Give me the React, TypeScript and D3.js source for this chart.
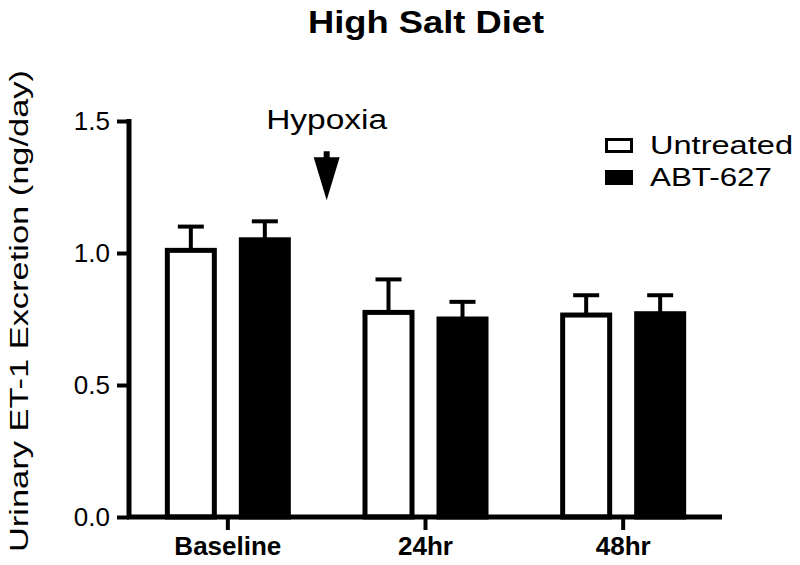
import React, { useRef, useEffect } from "react";
import * as d3 from "d3";

// data
const categories = ["Baseline", "24hr", "48hr"];
const seriesNames = ["Untreated", "ABT-627"];
const untreatedMean = [1.01, 0.775, 0.765];
const untreatedSem = [0.09, 0.125, 0.075];
const abtMean = [1.05, 0.75, 0.77];
const abtSem = [0.07, 0.065, 0.07];
const yTicks = [0.0, 0.5, 1.0, 1.5];
const seriesFill = ["#ffffff", "#000000"];

// hypoxia arrow: drawn between Baseline and 24hr, from 1.38 down to 1.2
const arrowTop = 1.385;
const arrowTip = 1.2;

const W = 800;
const H = 565;
const FONT = "'Liberation Sans', Arial, sans-serif";

const App = () => {
    const svgRef = useRef(null);

    useEffect(() => {
        const svg = d3.select(svgRef.current);
        svg.selectAll("*").remove();

        const y = d3.scaleLinear().domain([0, 1.5]).range([517, 121]);
        const x0 = d3.scaleBand().domain(categories).range([129, 722]);
        const x1 = d3.scalePoint().domain(seriesNames).range([-37, 37]);
        const barW = 47;

        const rows = categories.map((c, i) => [
            { cat: c, s: seriesNames[0], mean: untreatedMean[i], sem: untreatedSem[i], fill: seriesFill[0] },
            { cat: c, s: seriesNames[1], mean: abtMean[i], sem: abtSem[i], fill: seriesFill[1] },
        ]).flat();

        const cx = (d) => x0(d.cat) + x0.bandwidth() / 2 + x1(d.s);

        // title
        svg.append("text")
            .attr("x", 426).attr("y", 33)
            .attr("text-anchor", "middle")
            .attr("font-family", FONT).attr("font-weight", "bold").attr("font-size", 32)
            .attr("textLength", 236).attr("lengthAdjust", "spacingAndGlyphs")
            .text("High Salt Diet");

        // y label
        svg.append("text")
            .attr("transform", "translate(28," + 311 + ") rotate(-90)")
            .attr("text-anchor", "middle")
            .attr("font-family", FONT).attr("font-size", 26)
            .attr("textLength", 482).attr("lengthAdjust", "spacingAndGlyphs")
            .text("Urinary ET-1 Excretion (ng/day)");

        // error bars (behind bars)
        const eb = svg.append("g").attr("stroke", "#000").attr("stroke-width", 4);
        eb.selectAll(".stem").data(rows).join("line")
            .attr("x1", cx).attr("x2", cx)
            .attr("y1", (d) => y(d.mean)).attr("y2", (d) => y(d.mean + d.sem));
        eb.selectAll(".cap").data(rows).join("line")
            .attr("x1", (d) => cx(d) - 13).attr("x2", (d) => cx(d) + 13)
            .attr("y1", (d) => y(d.mean + d.sem)).attr("y2", (d) => y(d.mean + d.sem));

        // bars
        svg.append("g").selectAll("rect").data(rows).join("rect")
            .attr("x", (d) => cx(d) - barW / 2)
            .attr("width", barW)
            .attr("y", (d) => y(d.mean))
            .attr("height", (d) => y(0) - y(d.mean))
            .attr("fill", (d) => d.fill)
            .attr("stroke", "#000").attr("stroke-width", 5);

        // y axis
        const yAxis = svg.append("g").attr("transform", "translate(129,0)")
            .call(d3.axisLeft(y).tickValues(yTicks).tickFormat(d3.format(".1f")).tickSize(12).tickPadding(7));
        yAxis.select(".domain").attr("stroke-width", 5).attr("d", "M0," + (y(1.5) - 2) + "V" + (y(0) + 2));
        yAxis.selectAll(".tick line").attr("stroke-width", 4);
        yAxis.selectAll(".tick text")
            .attr("font-family", FONT).attr("font-size", 26).attr("fill", "#000");

        // x axis
        const xAxis = svg.append("g").attr("transform", "translate(0," + y(0) + ")")
            .call(d3.axisBottom(x0).tickSize(13).tickPadding(7));
        xAxis.select(".domain").attr("stroke-width", 5).attr("d", "M127,0H722");
        xAxis.selectAll(".tick line").attr("stroke-width", 4);
        xAxis.selectAll(".tick text")
            .attr("font-family", FONT).attr("font-weight", "bold").attr("font-size", 26).attr("fill", "#000");

        // hypoxia annotation
        const ax = x0("24hr");
        svg.append("text")
            .attr("x", ax).attr("y", 129)
            .attr("text-anchor", "middle")
            .attr("font-family", FONT).attr("font-size", 27)
            .attr("textLength", 121).attr("lengthAdjust", "spacingAndGlyphs")
            .text("Hypoxia");
        const at = y(arrowTop), tip = y(arrowTip);
        svg.append("path")
            .attr("d", "M" + (ax - 3) + "," + at + "H" + (ax + 3) + "V" + (at + 6) + "H" + (ax + 13)
                + "L" + ax + "," + tip + "L" + (ax - 13) + "," + (at + 6) + "H" + (ax - 3) + "Z")
            .attr("fill", "#000");

        // legend
        const lg = svg.append("g").attr("transform", "translate(605,0)");
        const legendY = [145.5, 177.5];
        const textLen = [143, 122];
        seriesNames.forEach((s, i) => {
            lg.append("rect")
                .attr("x", 1.5).attr("y", legendY[i] - 6).attr("width", 25).attr("height", 12)
                .attr("fill", seriesFill[i]).attr("stroke", "#000").attr("stroke-width", 3);
            lg.append("text")
                .attr("x", 45).attr("y", legendY[i] + 8)
                .attr("font-family", FONT).attr("font-size", 25)
                .attr("textLength", textLen[i]).attr("lengthAdjust", "spacingAndGlyphs")
                .text(s);
        });
    }, []);

    return (
        <svg ref={svgRef} width={W} height={H}
            style={{ position: "absolute", left: 0, top: 0, background: "#fff" }} />
    );
};

export default App;
